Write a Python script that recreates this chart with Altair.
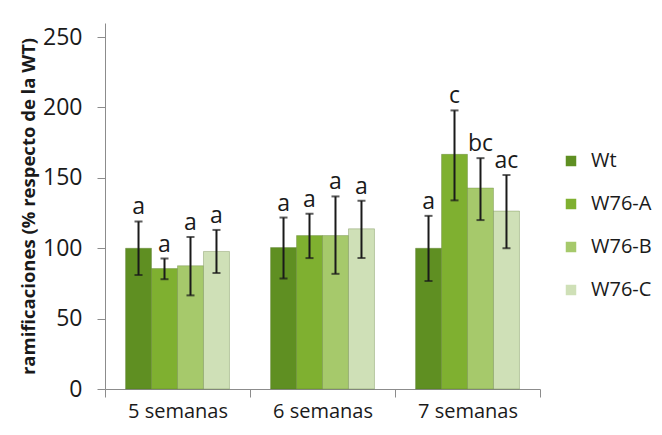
import altair as alt
import pandas as pd

semanas = ["5 semanas", "6 semanas", "7 semanas"]
genotipos = ["Wt", "W76-A", "W76-B", "W76-C"]
colores = ["#5f8f22", "#7fb030", "#a6c96b", "#cfe0b7"]

valores = {
    "Wt":    [100.0, 100.5, 100.0],
    "W76-A": [85.6, 109.0, 166.7],
    "W76-B": [87.6, 109.0, 142.8],
    "W76-C": [97.7, 113.8, 126.4],
}
err_alto = {
    "Wt":    [119.0, 121.8, 123.0],
    "W76-A": [92.7, 124.5, 197.9],
    "W76-B": [108.0, 136.8, 164.0],
    "W76-C": [113.0, 133.7, 152.0],
}
err_bajo = {
    "Wt":    [81.0, 78.5, 76.7],
    "W76-A": [78.0, 93.0, 134.0],
    "W76-B": [66.5, 81.8, 120.0],
    "W76-C": [82.4, 93.0, 100.0],
}
letras = {
    "Wt":    ["a", "a", "a"],
    "W76-A": ["a", "a", "c"],
    "W76-B": ["a", "a", "bc"],
    "W76-C": ["a", "a", "ac"],
}

rows = []
for g in genotipos:
    for i, s in enumerate(semanas):
        rows.append({"semana": s, "genotipo": g, "valor": valores[g][i],
                     "alto": err_alto[g][i], "bajo": err_bajo[g][i], "letra": letras[g][i]})
df = pd.DataFrame(rows)

FONT = "Open Sans"

x = alt.X("semana:N", sort=semanas, title=None,
          scale=alt.Scale(paddingInner=0, paddingOuter=0),
          axis=alt.Axis(tickBand="extent", labelAngle=0, labelFontSize=20, labelFont=FONT,
                        labelColor="#1a1a1a", domainColor="#8c8c8c", tickColor="#8c8c8c",
                        tickSize=8, labelPadding=4))
xo = alt.XOffset("genotipo:N", sort=genotipos,
                 scale=alt.Scale(paddingInner=0, paddingOuter=0.79))

base = alt.Chart(df)

bars = base.mark_bar(stroke="#4d6b22", strokeWidth=0.6, strokeOpacity=0.5).encode(
    x=x, xOffset=xo,
    y=alt.Y("valor:Q", scale=alt.Scale(domain=[0, 250]),
            title="ramificaciones (% respecto de la WT)",
            axis=alt.Axis(values=[0, 50, 100, 150, 200, 250], grid=False,
                          labelFontSize=23, labelFont=FONT, labelColor="#1a1a1a",
                          labelPadding=15, tickSize=8, tickColor="#8c8c8c",
                          domainColor="#8c8c8c", titleFont=FONT, titleFontSize=18.5,
                          titleFontWeight="bold", titleColor="#1a1a1a", titlePadding=4)),
    color=alt.Color("genotipo:N", sort=genotipos,
                    scale=alt.Scale(domain=genotipos, range=colores),
                    legend=alt.Legend(title=None, orient="none", legendX=456, legendY=128,
                                      symbolType="square", symbolSize=110,
                                      symbolStrokeWidth=0, labelFontSize=20,
                                      labelFont=FONT, labelColor="#1a1a1a",
                                      rowPadding=23, labelOffset=10)),
)

rule = base.mark_rule(color="#1a1a1a", strokeWidth=2).encode(
    x=x, xOffset=xo, y="bajo:Q", y2="alto:Q")
cap_hi = base.mark_tick(color="#1a1a1a", thickness=2, size=8).encode(
    x=x, xOffset=xo, y="alto:Q")
cap_lo = base.mark_tick(color="#1a1a1a", thickness=2, size=8).encode(
    x=x, xOffset=xo, y="bajo:Q")
text = base.mark_text(baseline="bottom", dy=-2, fontSize=23, font=FONT,
                      color="#1a1a1a").encode(
    x=x, xOffset=xo, y="alto:Q", text="letra:N")

chart = alt.layer(bars, rule, cap_hi, cap_lo, text).properties(
    width=435, height=366,
    background="white",
    autosize=alt.AutoSizeParams(type="none"),
    padding={"left": 97, "top": 15, "right": 114, "bottom": 38},
).configure_view(stroke=None)

chart.save("out.html", embed_options={"renderer": "svg", "actions": False})
